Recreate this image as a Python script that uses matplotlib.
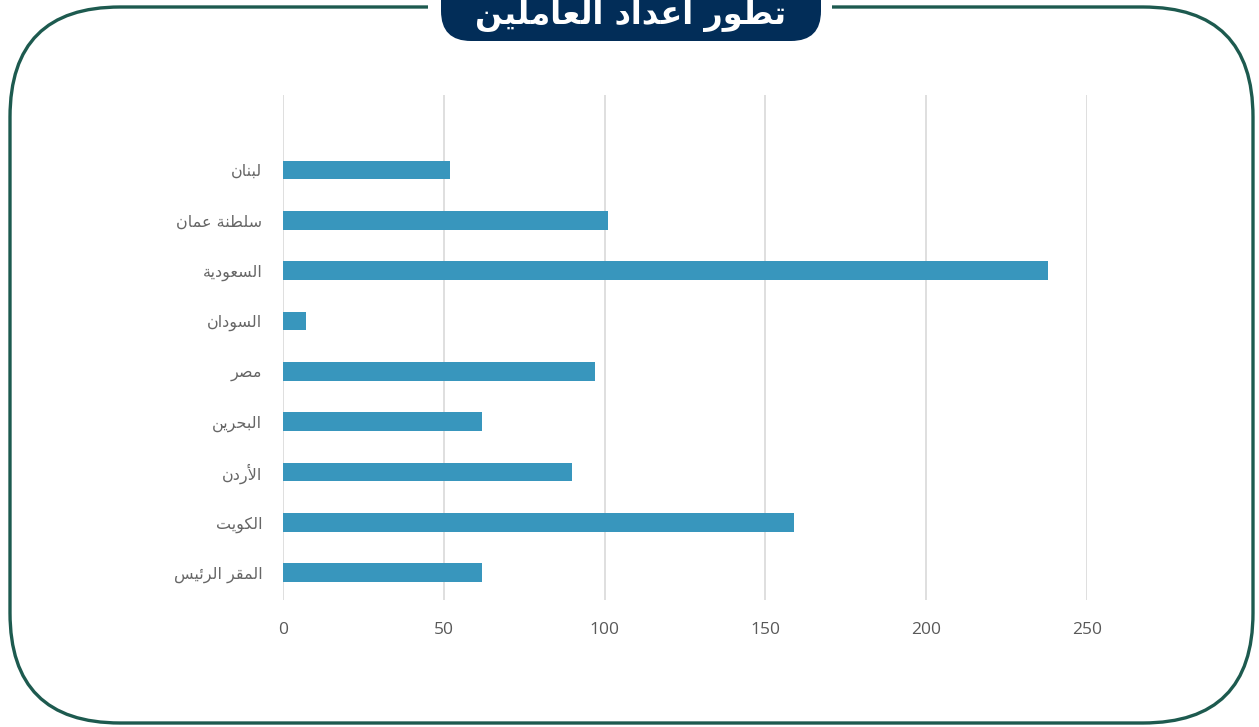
import matplotlib
matplotlib.use('Agg')
import matplotlib.pyplot as plt
from matplotlib.patches import FancyBboxPatch, Rectangle

# data (top to bottom as shown)
countries = ['لبنان', 'سلطنة عمان', 'السعودية', 'السودان', 'مصر',
             'البحرين', 'الأردن', 'الكويت', 'المقر الرئيس']
workers = [52, 101, 238, 7, 97, 62, 90, 159, 62]
title = 'تطور أعداد العاملين'
xticks = [0, 50, 100, 150, 200, 250]

# arabic letter forms: isolated, final, initial, medial
FORMS = {
    'ا': (0xFE8D, 0xFE8E), 'أ': (0xFE83, 0xFE84), 'ة': (0xFE93, 0xFE94),
    'د': (0xFEA9, 0xFEAA), 'ر': (0xFEAD, 0xFEAE), 'و': (0xFEED, 0xFEEE),
    'ب': (0xFE8F, 0xFE90, 0xFE91, 0xFE92), 'ت': (0xFE95, 0xFE96, 0xFE97, 0xFE98),
    'ح': (0xFEA1, 0xFEA2, 0xFEA3, 0xFEA4), 'س': (0xFEB1, 0xFEB2, 0xFEB3, 0xFEB4),
    'ص': (0xFEB9, 0xFEBA, 0xFEBB, 0xFEBC), 'ط': (0xFEC1, 0xFEC2, 0xFEC3, 0xFEC4),
    'ع': (0xFEC9, 0xFECA, 0xFECB, 0xFECC), 'ق': (0xFED5, 0xFED6, 0xFED7, 0xFED8),
    'ك': (0xFED9, 0xFEDA, 0xFEDB, 0xFEDC), 'ل': (0xFEDD, 0xFEDE, 0xFEDF, 0xFEE0),
    'م': (0xFEE1, 0xFEE2, 0xFEE3, 0xFEE4), 'ن': (0xFEE5, 0xFEE6, 0xFEE7, 0xFEE8),
    'ي': (0xFEF1, 0xFEF2, 0xFEF3, 0xFEF4), 'ئ': (0xFE89, 0xFE8A, 0xFE8B, 0xFE8C),
}
LAM_ALEF = {'ا': (0xFEFB, 0xFEFC), 'أ': (0xFEF7, 0xFEF8)}


def shape(txt):
    # merge lam-alef first
    chars = []
    i = 0
    while i < len(txt):
        if txt[i] == 'ل' and i + 1 < len(txt) and txt[i + 1] in LAM_ALEF:
            chars.append(('LA', txt[i + 1]))
            i += 2
        else:
            chars.append((txt[i], None))
            i += 1

    def dual(c):
        return c[0] in FORMS and len(FORMS[c[0]]) == 4

    def letter(c):
        return c[0] == 'LA' or c[0] in FORMS

    out = []
    for k, c in enumerate(chars):
        prev = chars[k - 1] if k > 0 else None
        nxt = chars[k + 1] if k + 1 < len(chars) else None
        jp = prev is not None and dual(prev) and letter(c)
        if c[0] == 'LA':
            f = LAM_ALEF[c[1]]
            out.append(chr(f[1] if jp else f[0]))
            continue
        if c[0] not in FORMS:
            out.append(c[0])
            continue
        f = FORMS[c[0]]
        jn = len(f) == 4 and nxt is not None and letter(nxt)
        if jp and jn:
            out.append(chr(f[3]))
        elif jp:
            out.append(chr(f[1]))
        elif jn:
            out.append(chr(f[2]))
        else:
            out.append(chr(f[0]))
    return ''.join(out)[::-1]


W, H = 1259, 727
fig = plt.figure(figsize=(W / 100, H / 100), dpi=100)

# frame layer in pixel units
bg = fig.add_axes([0, 0, 1, 1], zorder=0)
bg.set_xlim(0, W)
bg.set_ylim(H, 0)
bg.axis('off')
bg.add_patch(FancyBboxPatch((10, 7), 1243, 716,
                            boxstyle='round,pad=0,rounding_size=110',
                            fc='white', ec='#1d5a4f', lw=2.4))
bg.add_patch(Rectangle((428, 0), 404, 20, fc='white', ec='none'))
bg.add_patch(FancyBboxPatch((441, -40), 380, 81,
                            boxstyle='round,pad=0,rounding_size=30',
                            fc='#022d58', ec='none'))
bg.text(631, 12, shape(title), color='white', fontsize=23, fontweight='bold',
        family='DejaVu Sans', ha='center', va='center')

# bar chart
ax = fig.add_axes([283 / W, 1 - 600 / H, 804 / W, 505 / H], zorder=1)
ax.patch.set_alpha(0)
n = len(countries)
ypos = list(range(n))[::-1]
ax.barh(ypos, workers, height=0.37, color='#3896bd', zorder=2)
ax.set_xlim(0, 250)
ax.set_ylim(-0.54, n - 1 + 1.49)
ax.set_xticks(xticks)
ax.set_xticklabels([str(t) for t in xticks], family='Open Sans', fontsize=12.5,
                   color='#595959')
ax.set_yticks(ypos)
ax.set_yticklabels([shape(c) for c in countries], family='DejaVu Sans',
                   fontsize=11.5, color='#666666')
ax.tick_params(axis='both', length=0)
ax.tick_params(axis='x', pad=16)
ax.tick_params(axis='y', pad=15)
ax.grid(axis='x', color='#d9d9d9', lw=1.2, zorder=0)
for s in ax.spines.values():
    s.set_visible(False)

fig.savefig('out.png', dpi=100)
